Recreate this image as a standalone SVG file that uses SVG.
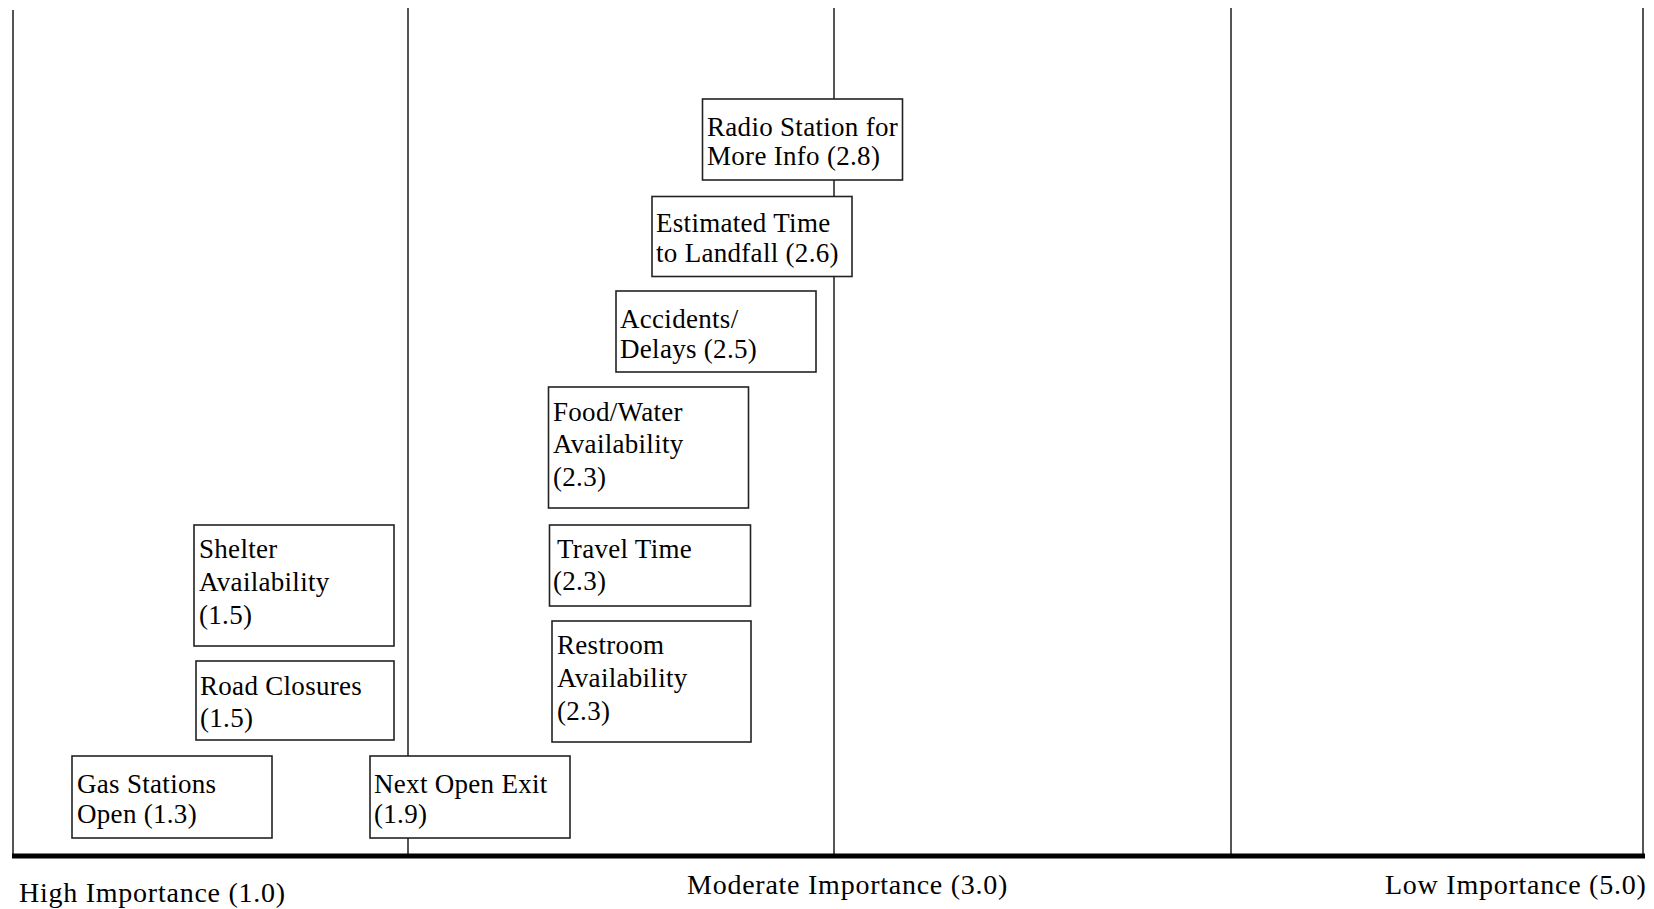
<svg xmlns="http://www.w3.org/2000/svg" width="1654" height="909" viewBox="0 0 1654 909">
<style>
.bg{fill:#fff}
.vl{stroke:#555;stroke-width:2;fill:none}
.axis{stroke:#000;stroke-width:5;fill:none}
.box{fill:#fff;stroke:#222;stroke-width:1.6}
.t{font-family:"Liberation Serif","Times New Roman",serif;font-size:27px;letter-spacing:0.3px;fill:#000}
.a{font-family:"Liberation Serif","Times New Roman",serif;font-size:28px;letter-spacing:0.75px;fill:#000}
</style>
<rect class="bg" x="0" y="0" width="1654" height="909"/>
<g id="connectors">
<line class="vl" x1="13" y1="10" x2="13" y2="856"/>
<line class="vl" x1="408" y1="8" x2="408" y2="856"/>
<line class="vl" x1="834" y1="8" x2="834" y2="856"/>
<line class="vl" x1="1231" y1="8" x2="1231" y2="856"/>
<line class="vl" x1="1643" y1="8" x2="1643" y2="856"/>
<line class="axis" x1="12" y1="856" x2="1645" y2="856"/>
</g>
<g id="axis-labels">
<text class="a" x="19" y="902">High Importance (1.0)</text>
<text class="a" x="687" y="894">Moderate Importance (3.0)</text>
<text class="a" x="1385" y="894">Low Importance (5.0)</text>
</g>
<g id="radio">
<rect class="box" x="702.5" y="99" width="200" height="81"/>
<text class="t" x="707" y="136">Radio Station for</text>
<text class="t" x="707" y="165">More Info (2.8)</text>
</g>
<g id="estimated">
<rect class="box" x="652" y="196.5" width="200" height="80"/>
<text class="t" x="656" y="232">Estimated Time</text>
<text class="t" x="656" y="262">to Landfall (2.6)</text>
</g>
<g id="accidents">
<rect class="box" x="616" y="291" width="200" height="81"/>
<text class="t" x="620" y="328">Accidents/</text>
<text class="t" x="620" y="358">Delays (2.5)</text>
</g>
<g id="foodwater">
<rect class="box" x="548.5" y="387" width="200" height="121"/>
<text class="t" x="553" y="421">Food/Water</text>
<text class="t" x="553" y="453">Availability</text>
<text class="t" x="553" y="486">(2.3)</text>
</g>
<g id="traveltime">
<rect class="box" x="549.5" y="525" width="201" height="81"/>
<text class="t" x="557" y="558">Travel Time</text>
<text class="t" x="553" y="590">(2.3)</text>
</g>
<g id="restroom">
<rect class="box" x="552" y="621" width="199" height="121"/>
<text class="t" x="557" y="654">Restroom</text>
<text class="t" x="557" y="687">Availability</text>
<text class="t" x="557" y="720">(2.3)</text>
</g>
<g id="shelter">
<rect class="box" x="194" y="525" width="200" height="121"/>
<text class="t" x="199" y="558">Shelter</text>
<text class="t" x="199" y="591">Availability</text>
<text class="t" x="199" y="624">(1.5)</text>
</g>
<g id="roadclosures">
<rect class="box" x="196" y="661" width="198" height="79"/>
<text class="t" x="200" y="695">Road Closures</text>
<text class="t" x="200" y="727">(1.5)</text>
</g>
<g id="gasstations">
<rect class="box" x="72" y="756" width="200" height="82"/>
<text class="t" x="77" y="793">Gas Stations</text>
<text class="t" x="77" y="823">Open (1.3)</text>
</g>
<g id="nextexit">
<rect class="box" x="370" y="756" width="200" height="82"/>
<text class="t" x="374" y="793">Next Open Exit</text>
<text class="t" x="374" y="823">(1.9)</text>
</g>
</svg>
